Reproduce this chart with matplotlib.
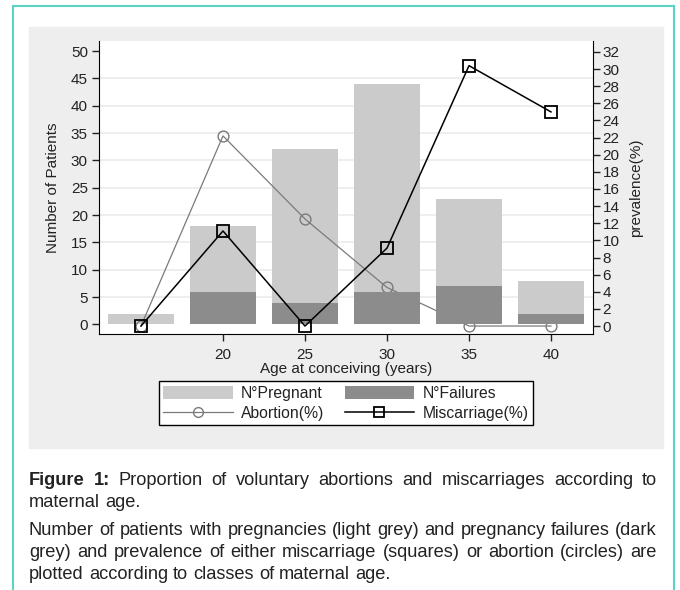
import matplotlib
matplotlib.use("Agg")
from matplotlib import pyplot as plt
from matplotlib.patches import Rectangle
from matplotlib.lines import Line2D

plt.rcParams['font.family'] = ['Liberation Sans', 'DejaVu Sans']

# data
ages = [15, 20, 25, 30, 35, 40]
n_pregnant = [2, 18, 32, 44, 23, 8]
n_failures = [0, 6, 4, 6, 7, 2]
abortion_pct = [0, 22.2, 12.5, 4.5, 0, 0]
miscarriage_pct = [0, 11.1, 0, 9.1, 30.4, 25.0]

x_ticks = [20, 25, 30, 35, 40]
left_ticks = list(range(0, 51, 5))
right_ticks = list(range(0, 33, 2))

caption = [
    ("Figure 1:", "Proportion of voluntary abortions and miscarriages according to", True),
    ("", "maternal age.", False),
    ("", "Number of patients with pregnancies (light grey) and pregnancy failures (dark", True),
    ("", "grey) and prevalence of either miscarriage (squares) or abortion (circles) are", True),
    ("", "plotted according to classes of maternal age.", False),
]

W, H = 680, 590
fig = plt.figure(figsize=(6.8, 5.9), dpi=100)

# grey graph region and teal frame
fig.patches.append(Rectangle((29 / W, 1 - 448 / H), 634 / W, 421 / H,
                             transform=fig.transFigure, color="#eeeeee", zorder=-10))
teal = "#5cd4c3"
for xs, ys in [([13, 13], [590, 6]), ([13, 674], [6, 6]), ([674, 674], [6, 590])]:
    fig.lines.append(Line2D([x / W for x in xs], [1 - y / H for y in ys],
                            transform=fig.transFigure, color=teal, lw=1.5))

ax = fig.add_axes([99 / W, 1 - 334 / H, 494 / W, 293 / H])
ax.set_facecolor("white")

left_lim = (-1.74, 51.83)
right_lim = (-0.93, 33.28)
x_lim = (12.44, 42.56)

light = "#cbcbcb"
dark = "#8c8c8c"
txt = "#222222"
fs = 11

# pregnant bars (bottom layer)
b1 = ax.bar(ages, n_pregnant, width=4, color=light, label="N°Pregnant")
ax.set_xlim(*x_lim)
ax.set_ylim(*left_lim)
ax.set_yticks(left_ticks)
ax.set_xticks(x_ticks)
ax.grid(axis="y", color="#ebebeb", lw=1.2)
ax.set_axisbelow(True)
gl = ax.yaxis.get_gridlines()
gl[0].set_visible(False)
gl[-1].set_visible(False)
ax.spines["top"].set_visible(False)
ax.spines["right"].set_visible(False)
ax.tick_params(axis="both", direction="out", length=5, width=1, labelsize=fs,
               colors=txt)
ax.tick_params(axis="x", pad=5)
ax.tick_params(axis="y", pad=3)
ax.set_ylabel("Number of Patients", fontsize=fs, color=txt)
ax.yaxis.set_label_coords(-0.078, 0.5)
ax.set_xlabel("Age at conceiving (years)", fontsize=fs, color=txt)
ax.xaxis.set_label_coords(0.5, -0.094)

# abortion line, right scale
ax_ab = ax.twinx()
l1, = ax_ab.plot(ages, abortion_pct, color="#7a7a7a", lw=0.9, marker="o", ms=7.8,
                 mfc="none", mec="#7a7a7a", mew=1, label="Abortion(%)", clip_on=False)
ax_ab.set_ylim(*right_lim)
ax_ab.set_yticks(right_ticks)
ax_ab.set_xlim(*x_lim)
ax_ab.spines["top"].set_visible(False)
ax_ab.spines["left"].set_visible(False)
ax_ab.spines["bottom"].set_visible(False)
ax_ab.tick_params(axis="y", direction="out", length=5, width=1, labelsize=fs,
                  colors=txt, pad=2)
ax_ab.set_ylabel("prevalence(%)", fontsize=fs, color=txt, rotation=90)
ax_ab.yaxis.set_label_coords(1.072, 0.5)

# failures bars, left scale, drawn over the abortion line
ax_fail = ax.twinx()
b2 = ax_fail.bar(ages, n_failures, width=4, color=dark, label="N°Failures")
ax_fail.set_ylim(*left_lim)
ax_fail.set_xlim(*x_lim)
ax_fail.axis("off")

# miscarriage line, right scale, on top
ax_mis = ax.twinx()
l2, = ax_mis.plot(ages, miscarriage_pct, color="black", lw=1.1, marker="s", ms=8.5,
                  mfc="none", mec="black", mew=1.3, label="Miscarriage(%)", clip_on=False)
ax_mis.set_ylim(*right_lim)
ax_mis.set_xlim(*x_lim)
ax_mis.axis("off")

leg = fig.legend(handles=[b1, l1, b2, l2], ncol=2, loc="upper center",
                 bbox_to_anchor=(346 / W, 1 - 381 / H), fontsize=11.3,
                 frameon=True, fancybox=False, framealpha=1, edgecolor="black",
                 handlelength=4.4, handleheight=0.95, handletextpad=0.55,
                 columnspacing=1.3, labelspacing=0.3, borderpad=0.3,
                 borderaxespad=0, numpoints=1, markerscale=0.9)
leg.get_frame().set_linewidth(1.0)
for t in leg.get_texts():
    t.set_color(txt)

# justified caption, font size chosen so that line 3 fits naturally
renderer = fig.canvas.get_renderer()
x_left, x_right = 29, 657
baselines = [485, 507, 535, 557, 579]
probe = fig.text(0, 0, caption[2][1], fontsize=12)
cap_fs = 12 * (x_right - x_left) / probe.get_window_extent(renderer).width
probe.remove()

for (bold, rest, justify), yb in zip(caption, baselines):
    words = [(w, True) for w in bold.split()] + [(w, False) for w in rest.split()]
    texts = [fig.text(0, 1 - yb / H, w, fontsize=cap_fs, color=txt,
                      fontweight="bold" if b else "normal", va="baseline")
             for w, b in words]
    widths = [t.get_window_extent(renderer).width for t in texts]
    if justify:
        gap = (x_right - x_left - sum(widths)) / (len(texts) - 1)
    else:
        gap = 0.28 * cap_fs * 100 / 72
    x = x_left
    for t, w in zip(texts, widths):
        t.set_x(x / W)
        x += w + gap

fig.savefig("out.png", dpi=100)
